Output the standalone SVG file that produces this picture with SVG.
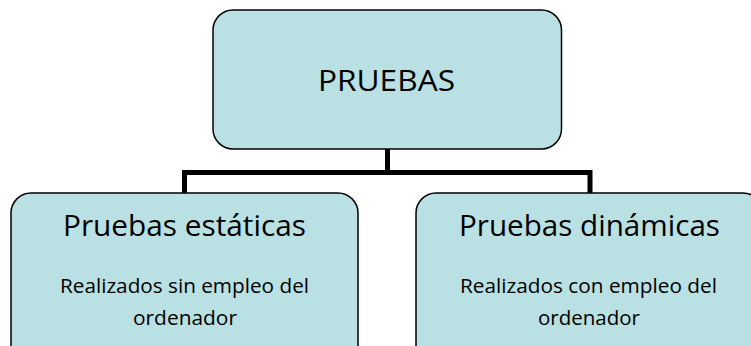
<svg xmlns="http://www.w3.org/2000/svg" width="751" height="346" viewBox="0 0 751 346">
  <style>
    .box { fill: #B9E0E3; stroke: #000; stroke-width: 1.5; }
    .conn { fill: none; stroke: #000; stroke-width: 5; stroke-linejoin: miter; stroke-linecap: butt; }
    text { font-family: "Open Sans", "Noto Sans", "Liberation Sans", sans-serif; fill: #000; text-anchor: middle; }
    .title { font-size: 29px; }
    .head { font-size: 29px; }
    .body { font-size: 20px; }
  </style>
  <rect width="751" height="346" fill="#fff"/>
  <g id="connectors">
    <path class="conn" d="M387.5 149 V172.5"/>
    <path class="conn" d="M184.5 193 V172.5 H590 V193"/>
  </g>
  <g id="node-pruebas">
    <rect class="box" x="213" y="10" width="348.5" height="139" rx="20" ry="20"/>
    <text class="title" x="386.5" y="91" textLength="137" lengthAdjust="spacingAndGlyphs">PRUEBAS</text>
  </g>
  <g id="node-estaticas">
    <rect class="box" x="11" y="193" width="347" height="175" rx="20" ry="20"/>
    <text class="head" x="184.5" y="236" textLength="243" lengthAdjust="spacingAndGlyphs">Pruebas estáticas</text>
    <text class="body" x="184.5" y="293" textLength="249" lengthAdjust="spacingAndGlyphs">Realizados sin empleo del</text>
    <text class="body" x="185" y="325" textLength="104" lengthAdjust="spacingAndGlyphs">ordenador</text>
  </g>
  <g id="node-dinamicas">
    <rect class="box" x="416" y="193" width="347" height="175" rx="20" ry="20"/>
    <text class="head" x="589.5" y="236" textLength="261" lengthAdjust="spacingAndGlyphs">Pruebas dinámicas</text>
    <text class="body" x="588.5" y="293" textLength="257" lengthAdjust="spacingAndGlyphs">Realizados con empleo del</text>
    <text class="body" x="589" y="325" textLength="102" lengthAdjust="spacingAndGlyphs">ordenador</text>
  </g>
</svg>
